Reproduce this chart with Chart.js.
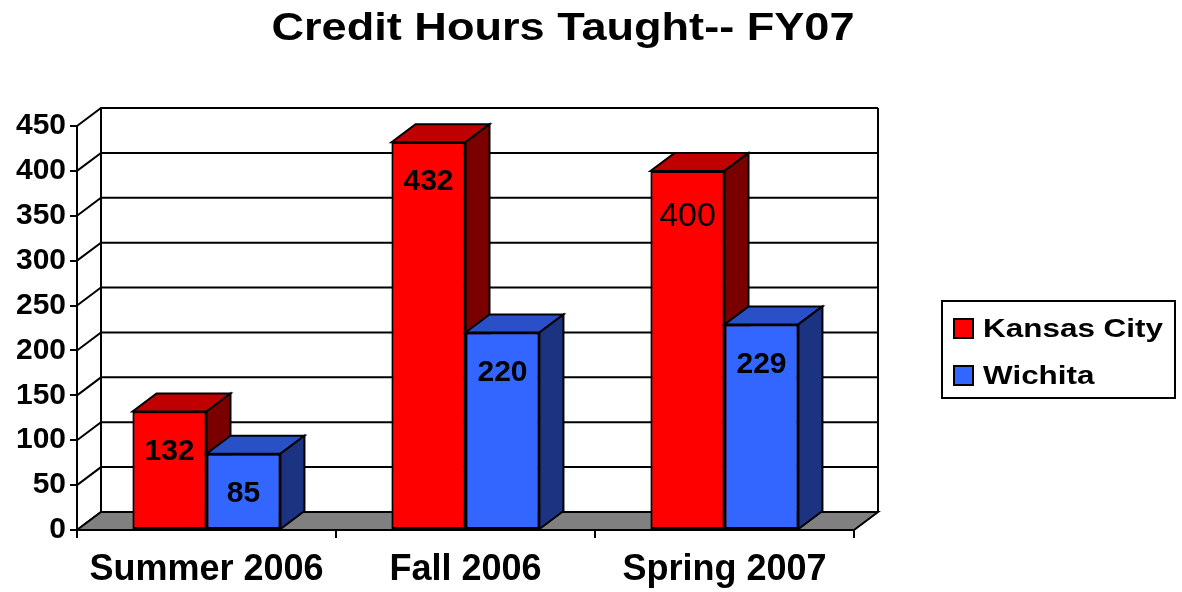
<!DOCTYPE html>
<html>
<head>
<meta charset="utf-8">
<script src="https://cdn.jsdelivr.net/npm/chart.js@4.4.1/dist/chart.umd.min.js"></script>
<style>
  body { margin: 0; background: #fff; }
  #wrap { width: 1182px; height: 592px; }
</style>
</head>
<body>
<div id="wrap"><canvas id="hours-chart"></canvas></div>
<script>
// =======================
// Data
// =======================
const title = 'Credit Hours Taught-- FY07';
const terms = ["Summer 2006", "Fall 2006", "Spring 2007"];
const kansasCity = [132, 432, 400];
const wichita = [85, 220, 229];
const yMax = 450;
const yStep = 50;

// =======================
// Look
// =======================
const FONT = "'Liberation Sans', Arial, sans-serif";
const DX = 24, DY = 18;           // depth of the 3-D box
const faces = [
    { front: '#ff0000', top: '#c00000', side: '#7a0000' },
    { front: '#3366ff', top: '#2a50c8', side: '#1b3380' }
];
// the "400" label is set in a plain, larger face in the original
const plainLabel = { dataset: 0, index: 2 };

function poly(ctx, pts, fill) {
    ctx.beginPath();
    ctx.moveTo(pts[0][0], pts[0][1]);
    for (let i = 1; i < pts.length; i++) ctx.lineTo(pts[i][0], pts[i][1]);
    ctx.closePath();
    if (fill) { ctx.fillStyle = fill; ctx.fill(); }
    ctx.stroke();
}

// wide text, the original lettering is stretched sideways
function wideText(ctx, text, x, y, width, align) {
    const w = ctx.measureText(text).width;
    const k = width / w;
    ctx.save();
    ctx.translate(x, y);
    ctx.scale(k, 1);
    ctx.textAlign = align;
    ctx.fillText(text, 0, 0);
    ctx.restore();
}

const box3d = {
    id: 'box3d',
    beforeDatasetsDraw(chart) {
        const { ctx, chartArea: a, scales: { y } } = chart;
        ctx.save();
        ctx.strokeStyle = '#000';
        ctx.lineWidth = 2;
        // grid on the side and back walls
        y.ticks.forEach(t => {
            const py = y.getPixelForValue(t.value);
            ctx.beginPath();
            ctx.moveTo(a.left, py);
            ctx.lineTo(a.left + DX, py - DY);
            ctx.lineTo(a.right + DX, py - DY);
            ctx.stroke();
        });
        const top = y.getPixelForValue(yMax);
        ctx.beginPath();
        ctx.moveTo(a.left + DX, top - DY);
        ctx.lineTo(a.left + DX, a.bottom - DY);
        ctx.moveTo(a.right + DX, top - DY);
        ctx.lineTo(a.right + DX, a.bottom - DY);
        ctx.stroke();
        // floor
        poly(ctx, [[a.left, a.bottom], [a.right, a.bottom],
                   [a.right + DX, a.bottom - DY], [a.left + DX, a.bottom - DY]], '#808080');
        ctx.restore();
    },
    afterDatasetsDraw(chart) {
        const { ctx } = chart;
        const metas = chart.data.datasets.map((d, i) => chart.getDatasetMeta(i));
        ctx.save();
        ctx.strokeStyle = '#000';
        ctx.lineWidth = 2;
        terms.forEach((t, idx) => {
            metas.forEach((meta, di) => {
                const bar = meta.data[idx];
                const p = bar.getProps(['x', 'y', 'base', 'width'], true);
                const l = p.x - p.width / 2, r = p.x + p.width / 2;
                poly(ctx, [[l, p.y], [r, p.y], [r + DX, p.y - DY], [l + DX, p.y - DY]], faces[di].top);
                poly(ctx, [[r, p.y], [r + DX, p.y - DY], [r + DX, p.base - DY], [r, p.base]], faces[di].side);
                bar.draw(ctx);
                ctx.strokeStyle = '#000';
                ctx.lineWidth = 2;
            });
        });
        // value labels
        ctx.fillStyle = '#000';
        ctx.textAlign = 'center';
        ctx.textBaseline = 'middle';
        metas.forEach((meta, di) => {
            meta.data.forEach((bar, idx) => {
                const p = bar.getProps(['x', 'y'], true);
                const plain = di === plainLabel.dataset && idx === plainLabel.index;
                ctx.font = plain ? '34px ' + FONT : 'bold 30px ' + FONT;
                ctx.fillText(chart.data.datasets[di].data[idx], p.x, p.y + (plain ? 46 : 40));
            });
        });
        // title
        ctx.textBaseline = 'alphabetic';
        ctx.font = 'bold 38px ' + FONT;
        wideText(ctx, title, 563, 40, 583, 'center');
        // legend box
        const lx = 942, ly = 301, lw = 233, lh = 97;
        ctx.lineWidth = 2;
        ctx.strokeRect(lx, ly, lw, lh);
        ctx.textBaseline = 'middle';
        ctx.font = 'bold 26px ' + FONT;
        const kcWidth = ctx.measureText(chart.data.datasets[0].label).width;
        const k = 180 / kcWidth;
        chart.data.datasets.forEach((d, di) => {
            const cy = ly + 28 + di * 47;
            ctx.fillStyle = d.backgroundColor;
            ctx.fillRect(lx + 12, cy - 10, 19, 19);
            ctx.strokeRect(lx + 12, cy - 10, 19, 19);
            ctx.fillStyle = '#000';
            wideText(ctx, d.label, lx + 41, cy + 1, ctx.measureText(d.label).width * k, 'left');
        });
        ctx.restore();
    }
};

// =======================
// The Bar Graph
// =======================
const hoursCanvas = document.querySelector('#hours-chart');
const hoursData = {
    labels: terms,
    datasets: [{
        label: 'Kansas City',
        data: kansasCity,
        backgroundColor: faces[0].front
    }, {
        label: 'Wichita',
        data: wichita,
        backgroundColor: faces[1].front
    }]
};
const hoursOptions = {
    responsive: true,
    maintainAspectRatio: false,
    animation: false,
    layout: {
        padding: { left: 0, right: 328, top: 126, bottom: 0 }
    },
    datasets: {
        bar: {
            borderColor: '#000',
            borderWidth: 2,
            borderSkipped: false,
            barPercentage: 1,
            categoryPercentage: 0.571
        }
    },
    scales: {
        x: {
            grid: {
                display: true,
                offset: true,
                drawOnChartArea: false,
                color: '#000',
                lineWidth: 2,
                tickLength: 8
            },
            border: { color: '#000', width: 2 },
            ticks: {
                color: '#000',
                padding: 10,
                font: { family: FONT, size: 36, weight: 'bold' }
            },
            afterFit: s => { s.height = 62; }
        },
        y: {
            min: 0,
            max: yMax,
            ticks: {
                stepSize: yStep,
                color: '#000',
                padding: 4,
                font: { family: FONT, size: 30, weight: 'bold' }
            },
            grid: {
                drawOnChartArea: false,
                color: '#000',
                lineWidth: 2,
                tickLength: 7
            },
            border: { color: '#000', width: 2 },
            afterFit: s => { s.width = 77; }
        }
    },
    plugins: {
        legend: { display: false },
        tooltip: { enabled: false },
        title: { display: false }
    }
};
let hoursChart = new Chart(hoursCanvas, {
    type: 'bar',
    data: hoursData,
    options: hoursOptions,
    plugins: [box3d]
});
</script>
</body>
</html>
